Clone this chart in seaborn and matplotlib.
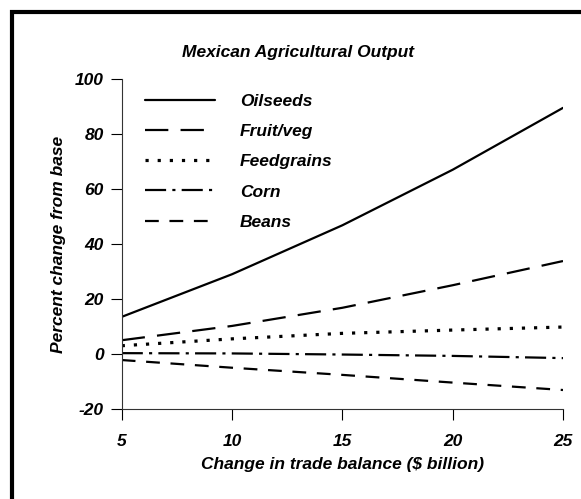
import matplotlib

matplotlib.use("Agg")
import matplotlib.pyplot as plt
import pandas as pd
import seaborn as sns
from matplotlib.patches import Rectangle

# --------------------------------------------------------------------------- #
# Data
# --------------------------------------------------------------------------- #
trade_balance = [5, 10, 15, 20, 25]
oilseeds = [13.5, 29.0, 46.8, 67.0, 89.5]
fruit_veg = [5.0, 10.2, 16.8, 25.0, 33.8]
feedgrains = [3.0, 5.5, 7.5, 8.7, 9.8]
corn = [0.3, 0.2, -0.2, -0.7, -1.5]
beans = [-2.2, -5.0, -7.6, -10.4, -13.1]

series_names = ["Oilseeds", "Fruit/veg", "Feedgrains", "Corn", "Beans"]
series_values = [oilseeds, fruit_veg, feedgrains, corn, beans]
y_ticks = [-20, 0, 20, 40, 60, 80, 100]

df = pd.DataFrame(
    [
        {"x": x, "y": y, "crop": name}
        for name, vals in zip(series_names, series_values)
        for x, y in zip(trade_balance, vals)
    ]
)

# --------------------------------------------------------------------------- #
# Plot
# --------------------------------------------------------------------------- #
sns.set_style("ticks")
plt.rcParams["font.family"] = ["Liberation Sans", "DejaVu Sans"]
FS = 12.5
font = dict(fontsize=FS, fontweight="bold", fontstyle="italic", color="black")

fig = plt.figure(figsize=(5.81, 4.99), dpi=100)
ax = fig.add_axes([0.2095, 0.1804, 0.7595, 0.6613])

dashes = {
    "Oilseeds": "",
    "Fruit/veg": (10.5, 5.5),
    "Feedgrains": (1.0, 2.8),
    "Corn": (9.5, 2.8, 1.4, 2.8),
    "Beans": (6.2, 4.8),
}
sns.lineplot(
    data=df, x="x", y="y", style="crop", style_order=series_names,
    dashes=dashes, color="black", linewidth=1.6, legend=False, ax=ax,
)
# dotted series drawn a bit heavier, like the reference
ax.lines[2].set_linewidth(2.3)

ax.set_xlim(5, 25)
ax.set_ylim(-20, 100)
ax.set_xticks(trade_balance)
ax.set_yticks(y_ticks)
ax.set_xticklabels([str(v) for v in trade_balance], **font)
ax.set_yticklabels([str(v) for v in y_ticks], **font)
ax.tick_params(axis="x", length=8, width=0.8, pad=10, colors="black")
ax.tick_params(axis="y", length=8, width=0.8, pad=5, colors="black")
sns.despine(ax=ax)
for side in ("left", "bottom"):
    ax.spines[side].set_linewidth(0.8)
    ax.spines[side].set_color("#333333")

ax.set_xlabel("Change in trade balance ($ billion)", labelpad=6, **font)
ax.set_ylabel("Percent change from base", labelpad=6, **font)
fig.text(0.513, 0.895, "Mexican Agricultural Output", ha="center", va="center", **font)

leg = ax.legend(
    ax.lines, series_names, loc="upper left", bbox_to_anchor=(0.053, 0.954),
    frameon=False, handlelength=4.0, handletextpad=1.45, labelspacing=0.86,
    borderaxespad=0.0, borderpad=0.0,
    prop=dict(size=FS, weight="bold", style="italic"),
)
for t in leg.get_texts():
    t.set_color("black")

# thick frame along the top and left edges of the figure
fig.add_artist(Rectangle((0.0198, -0.2), 2.0, 1.176, transform=fig.transFigure,
                         fill=False, linewidth=3.0, edgecolor="black", clip_on=False))

fig.savefig("out.png", dpi=100)
plt.close(fig)
